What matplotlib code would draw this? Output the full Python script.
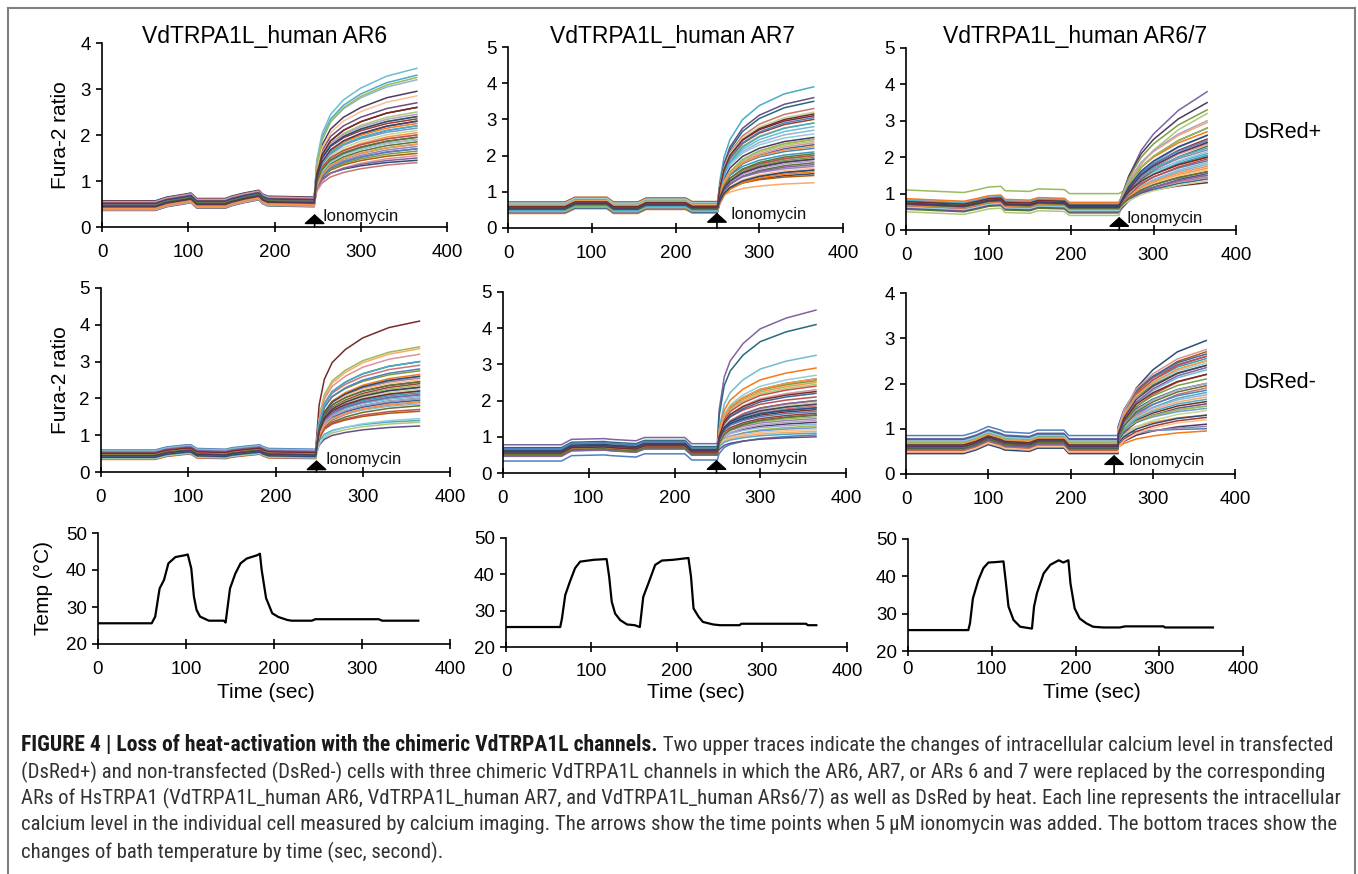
import matplotlib
matplotlib.use('Agg')
import matplotlib.pyplot as plt
from matplotlib import font_manager as fm
from matplotlib.lines import Line2D

W, H, DPI = 1358, 874, 100

# ------------------------------------------------------------------ data
time_ticks = [0, 100, 200, 300, 400]
titles = ["VdTRPA1L_human AR6", "VdTRPA1L_human AR7", "VdTRPA1L_human AR6/7"]
row_labels = ["DsRed+", "DsRed-"]

# bath temperature (time in s, temperature in °C)
temp_ar6_t = [0, 61, 65, 70, 75, 80, 88, 99, 102, 106, 109, 112, 116, 126, 143, 145, 150, 156, 162, 169,
              181, 184, 186, 191, 198, 205, 215, 220, 243, 247, 319, 323, 364]
temp_ar6_v = [25.6, 25.6, 27.4, 35.0, 37.3, 41.8, 43.5, 44.0, 44.2, 40.4, 32.8, 29.2, 27.4, 26.3, 26.3, 25.8,
              35.0, 39.0, 41.8, 43.1, 44.0, 44.4, 40.0, 32.4, 28.3, 27.3, 26.5, 26.3, 26.3, 26.7, 26.7, 26.3, 26.3]
temp_ar7_t = [0, 63.6, 65.6, 69.5, 75, 81, 87, 103, 118, 121, 124, 128, 134, 142, 151, 157, 161, 167, 175,
              183, 196, 214, 217, 220, 226, 231, 243, 251, 274, 276, 352, 354, 364]
temp_ar7_v = [25.5, 25.5, 27.8, 34.3, 38.0, 41.7, 43.5, 44.0, 44.2, 39.4, 32.5, 29.2, 27.4, 26.2, 26.0, 25.5,
              33.8, 37.5, 42.6, 43.8, 44.0, 44.5, 39.4, 30.6, 28.3, 26.9, 26.2, 26.0, 26.0, 26.4, 26.4, 26.0, 26.0]
temp_ar67_t = [0, 72, 74, 77.5, 84, 90, 96, 104, 114, 117, 120, 126, 134, 148, 150.5, 154, 162, 170, 180,
               185.5, 191.5, 194, 199, 205, 213, 221, 233, 253, 259, 305, 307, 364]
temp_ar67_v = [25.6, 25.6, 27.4, 34.1, 39.0, 42.2, 43.7, 43.8, 44.0, 38.1, 31.9, 28.3, 26.5, 26.0, 31.9, 35.5,
               40.8, 43.1, 44.3, 43.7, 44.3, 38.1, 31.4, 28.7, 27.4, 26.5, 26.3, 26.3, 26.6, 26.6, 26.3, 26.3]

# mean baseline before ionomycin (time, Fura-2 ratio)
base_ar6_t = [0, 62, 75, 98, 103, 110, 143, 150, 165, 182, 186, 192, 246]
base_ar6_pos = [0.45, 0.45, 0.53, 0.60, 0.62, 0.50, 0.50, 0.55, 0.62, 0.68, 0.60, 0.55, 0.53]
base_ar6_neg = [0.46, 0.46, 0.54, 0.60, 0.60, 0.50, 0.48, 0.52, 0.56, 0.60, 0.55, 0.50, 0.48]
base_ar7_t = [0, 68, 80, 118, 126, 155, 165, 212, 220, 250]
base_ar7_pos = [0.55, 0.55, 0.68, 0.68, 0.55, 0.55, 0.66, 0.66, 0.56, 0.56]
base_ar7_neg = [0.55, 0.55, 0.70, 0.72, 0.70, 0.66, 0.75, 0.75, 0.58, 0.58]
base_ar67_t = [0, 70, 85, 100, 115, 120, 150, 160, 192, 198, 258]
base_ar67_pos = [0.72, 0.65, 0.72, 0.80, 0.82, 0.70, 0.68, 0.75, 0.73, 0.62, 0.62]
base_ar67_neg = [0.60, 0.60, 0.68, 0.80, 0.72, 0.68, 0.65, 0.72, 0.72, 0.60, 0.60]

# fraction of the ionomycin response reached (time, fraction)
rise_ar6_pos_t = [246, 249, 255, 265, 280, 300, 330, 365]
rise_ar6_pos_f = [0, 0.30, 0.50, 0.65, 0.76, 0.85, 0.94, 1.0]
rise_ar6_neg_t = [247, 250, 256, 265, 280, 300, 330, 365]
rise_ar6_neg_f = [0, 0.35, 0.55, 0.68, 0.78, 0.87, 0.95, 1.0]
rise_ar7_pos_t = [250, 253, 258, 265, 280, 300, 330, 365]
rise_ar7_pos_f = [0, 0.20, 0.40, 0.55, 0.72, 0.84, 0.94, 1.0]
rise_ar7_neg_t = [249, 252, 258, 265, 280, 300, 330, 365]
rise_ar7_neg_f = [0, 0.25, 0.50, 0.62, 0.75, 0.86, 0.94, 1.0]
rise_ar67_pos_t = [258, 262, 270, 285, 300, 330, 365]
rise_ar67_pos_f = [0, 0.10, 0.28, 0.50, 0.64, 0.84, 1.0]
rise_ar67_neg_t = [253, 258, 265, 280, 300, 330, 365]
rise_ar67_neg_f = [0, 0.15, 0.35, 0.58, 0.74, 0.90, 1.0]

# per-cell baseline offsets and final (t=365 s) Fura-2 ratio
off_ar6_pos = [-0.08, 0.02, 0.10, -0.03, 0.05, -0.06, 0.12, 0.00, -0.04, 0.07, -0.09, 0.03, 0.09, -0.02,
               0.04, -0.07, 0.06, 0.01, -0.05, 0.11, -0.01, 0.08, -0.06, 0.02, 0.05, -0.08, 0.00, 0.10,
               -0.03, 0.04, -0.04, 0.07, -0.02, 0.03, 0.01, -0.05, 0.06, -0.01, 0.02, 0.00]
fin_ar6_pos = [2.20, 1.90, 2.40, 1.70, 3.30, 2.05, 1.45, 2.60, 1.85, 2.95, 2.30, 1.60, 2.15, 1.40, 2.50,
               1.75, 3.45, 2.00, 1.95, 2.35, 1.65, 2.70, 1.80, 2.25, 3.20, 1.55, 2.10, 2.45, 1.90, 2.85,
               1.70, 2.00, 3.25, 1.50, 2.20, 1.80, 2.40, 2.60, 1.95, 2.30]
off_ar6_neg = [0.14, -0.10, 0.03, -0.05, 0.08, -0.12, 0.00, 0.11, -0.07, 0.04, -0.02, 0.09, -0.09, 0.06,
               -0.04, 0.02, 0.12, -0.06, 0.01, -0.11, 0.07, -0.03, 0.05, -0.08, 0.10, 0.00, -0.05, 0.03,
               -0.10, 0.06, -0.01, 0.04, -0.07, 0.08, -0.03, 0.02, -0.06, 0.05, 0.00, -0.02]
fin_ar6_neg = [2.30, 1.90, 3.40, 2.10, 1.40, 2.60, 2.00, 4.10, 1.80, 2.45, 3.00, 1.65, 2.20, 2.90, 1.35,
               2.55, 2.05, 3.35, 1.95, 2.40, 2.75, 1.25, 2.15, 2.65, 1.85, 3.20, 2.25, 2.00, 1.45, 2.50,
               2.80, 1.70, 2.35, 2.10, 3.00, 1.90, 2.60, 2.20, 2.45, 2.30]
off_ar7_pos = [0.15, -0.12, 0.05, -0.06, 0.10, -0.15, 0.02, 0.13, -0.09, 0.07, -0.03, 0.17, -0.11, 0.04,
               -0.07, 0.09, -0.01, 0.12, -0.13, 0.06, -0.04, 0.01, 0.11, -0.08, 0.03, -0.10, 0.08, -0.02,
               0.14, -0.05, 0.00, 0.05, -0.09, 0.02, -0.06, 0.07, -0.03, 0.04, -0.01, 0.00]
fin_ar7_pos = [2.20, 1.60, 2.90, 1.90, 3.90, 2.45, 1.50, 3.10, 1.80, 2.50, 3.50, 1.45, 2.00, 3.30, 2.40,
               1.70, 2.80, 1.25, 2.30, 3.00, 1.95, 3.60, 2.10, 1.55, 2.70, 2.35, 3.20, 1.85, 2.60, 1.65,
               3.05, 2.00, 2.45, 1.75, 2.90, 2.25, 1.60, 3.15, 2.05, 1.90]
off_ar7_neg = [-0.22, 0.08, -0.05, 0.23, -0.08, 0.04, -0.02, 0.09, -0.06, 0.03, 0.15, -0.04, 0.06, -0.09,
               0.01, 0.07, -0.03, 0.05, -0.07, 0.02, 0.10, -0.05, 0.04, -0.01, 0.08, -0.06, 0.03, 0.00,
               -0.04, 0.06, 0.12, -0.02, 0.05, -0.08, 0.02, -0.03, 0.07, 0.00, -0.05, 0.04]
fin_ar7_neg = [1.05, 2.10, 1.30, 4.50, 1.90, 2.50, 1.60, 1.75, 2.60, 1.40, 4.10, 2.00, 1.25, 1.85, 2.45,
               1.50, 3.25, 1.15, 2.20, 1.65, 2.55, 1.00, 1.80, 2.90, 1.35, 2.30, 1.95, 1.45, 2.70, 1.20,
               1.70, 2.40, 1.55, 2.00, 1.10, 2.60, 1.80, 2.25, 1.60, 1.90]
off_ar67_pos = [0.05, -0.12, 0.38, -0.05, 0.10, -0.08, 0.02, 0.12, -0.15, 0.07, -0.02, 0.09, -0.10, 0.04,
                -0.22, 0.06, -0.04, 0.11, 0.00, -0.07, 0.08, -0.12, 0.03, 0.14, -0.06, 0.05, -0.03, 0.10,
                -0.09, 0.01, 0.07, -0.05, 0.04, -0.01, 0.09, -0.04, 0.02, 0.06, -0.02, 0.00]
fin_ar67_pos = [1.90, 2.40, 1.50, 3.80, 2.10, 1.70, 2.80, 1.30, 2.30, 3.50, 1.60, 2.00, 2.60, 1.45, 3.20,
                2.20, 1.80, 2.95, 1.40, 2.50, 3.30, 1.55, 2.05, 2.70, 1.85, 2.35, 1.35, 3.00, 2.15, 1.65,
                2.45, 1.95, 2.80, 1.50, 2.25, 1.75, 2.60, 2.00, 1.60, 2.40]
off_ar67_neg = [0.25, -0.10, 0.05, 0.18, -0.06, 0.10, -0.15, 0.02, 0.14, -0.08, 0.07, -0.03, 0.12, -0.12,
                0.04, 0.09, -0.05, 0.01, 0.16, -0.09, 0.06, -0.02, 0.11, -0.07, 0.03, 0.08, -0.04, 0.00,
                0.13, -0.11, 0.05, -0.01, 0.09, -0.06, 0.02, 0.07, -0.03, 0.04, -0.02, 0.01]
fin_ar67_neg = [1.00, 2.20, 1.50, 2.60, 1.80, 1.30, 2.95, 1.60, 2.40, 1.10, 2.00, 2.70, 1.45, 1.90, 2.50,
                1.05, 2.30, 1.70, 2.65, 1.25, 2.10, 1.55, 2.55, 0.95, 1.75, 2.75, 1.40, 2.00, 2.45, 1.20,
                1.85, 2.60, 1.50, 2.35, 1.65, 2.50, 1.30, 2.20, 1.95, 2.40]

# ionomycin arrow: (time, arrow tip, label x, label y)
iono_ar6_pos = (246.5, 0.28, 256, 0.22)
iono_ar7_pos = (249.5, 0.42, 266, 0.37)
iono_ar67_pos = (258.5, 0.36, 267, 0.32)
iono_ar6_neg = (247, 0.32, 257, 0.34)
iono_ar7_neg = (249, 0.36, 266, 0.37)
iono_ar67_neg = (253, 0.42, 270, 0.29)

# Excel-2007 style series colours
series_colors = ['#4F81BD', '#C0504D', '#9BBB59', '#8064A2', '#4BACC6', '#F79646',
                 '#2C4D75', '#772C2A', '#5F7530', '#4D3B62', '#276A7C', '#B65708',
                 '#729ACA', '#CD7371', '#AFC97A', '#9983B5', '#6FBDD1', '#F9AA6B',
                 '#3A679C', '#9F3B38', '#7E9D40', '#664F83', '#369AB5', '#F57A1A',
                 '#95B3D7', '#D99694', '#C3D69B', '#B3A2C7', '#93CDDD', '#FAC090']

# ------------------------------------------------------------------ style
names = {f.name for f in fm.fontManager.ttflist}
SANS = 'Liberation Sans' if 'Liberation Sans' in names else 'DejaVu Sans'
NARROW = next((n for n in ['Liberation Sans Narrow', 'Roboto Condensed', 'Open Sans Condensed']
               if n in names), SANS)
plt.rcParams['font.family'] = [SANS, 'DejaVu Sans']

fig = plt.figure(figsize=(W / DPI, H / DPI), dpi=DPI)
fig.patch.set_facecolor('white')

# frame
for xs, ys in [([8, 1355], [8, 8]), ([8, 8], [8, 874]), ([1355, 1355], [8, 874])]:
    fig.add_artist(Line2D([x / W for x in xs], [1 - y / H for y in ys], color='#808080', lw=1.5))


def make_ax(x0, x1, ytop, ybot, ylim, yticks, xpad=9):
    ax = fig.add_axes([x0 / W, 1 - ybot / H, (x1 - x0) / W, (ybot - ytop) / H])
    ax.set_xlim(0, 400)
    ax.set_ylim(*ylim)
    ax.set_xticks(time_ticks)
    ax.set_yticks(yticks)
    for s in ['top', 'right']:
        ax.spines[s].set_visible(False)
    for s in ['left', 'bottom']:
        ax.spines[s].set_linewidth(1.2)
    ax.tick_params(axis='x', direction='inout', length=7, width=1.2, labelsize=13.5, pad=xpad)
    ax.tick_params(axis='y', direction='out', length=4, width=1.2, labelsize=13.5, pad=4)
    ax.patch.set_alpha(0)
    return ax


def draw_traces(ax, base_t, base_v, offs, rise_t, rise_f, finals, iono):
    for i, (off, fin) in enumerate(zip(offs, finals)):
        pre = [v + off for v in base_v]
        b_end = pre[-1]
        post = [b_end + (fin - b_end) * f for f in rise_f[1:]]
        ax.plot(list(base_t) + list(rise_t[1:]), pre + post,
                color=series_colors[i % len(series_colors)], lw=1.1, solid_joinstyle='round')
    t, tip, lx, ly = iono
    ax.annotate('', xy=(t, tip), xytext=(t, 0),
                arrowprops=dict(arrowstyle='-|>,head_length=0.45,head_width=0.5', color='black',
                                lw=1.2, mutation_scale=13, shrinkA=0, shrinkB=0))
    ax.text(lx, ly, 'Ionomycin', fontsize=12, va='center', ha='left', color='#111111')


fura_panels = [
    # (x0, x1, ytop, ybot, ymax, base_t, base_v, offs, rise_t, rise_f, finals, iono)
    (102, 447, 43, 227, 4, base_ar6_t, base_ar6_pos, off_ar6_pos, rise_ar6_pos_t, rise_ar6_pos_f, fin_ar6_pos, iono_ar6_pos),
    (508, 843, 47, 228, 5, base_ar7_t, base_ar7_pos, off_ar7_pos, rise_ar7_pos_t, rise_ar7_pos_f, fin_ar7_pos, iono_ar7_pos),
    (906, 1236, 48, 230, 5, base_ar67_t, base_ar67_pos, off_ar67_pos, rise_ar67_pos_t, rise_ar67_pos_f, fin_ar67_pos, iono_ar67_pos),
    (101, 450, 288, 472, 5, base_ar6_t, base_ar6_neg, off_ar6_neg, rise_ar6_neg_t, rise_ar6_neg_f, fin_ar6_neg, iono_ar6_neg),
    (503, 846, 292, 473, 5, base_ar7_t, base_ar7_neg, off_ar7_neg, rise_ar7_neg_t, rise_ar7_neg_f, fin_ar7_neg, iono_ar7_neg),
    (906, 1235, 293, 474, 4, base_ar67_t, base_ar67_neg, off_ar67_neg, rise_ar67_neg_t, rise_ar67_neg_f, fin_ar67_neg, iono_ar67_neg),
]

for k, p in enumerate(fura_panels):
    x0, x1, yt, yb, ymax, bt, bv, offs, rt, rf, fins, iono = p
    ax = make_ax(x0, x1, yt, yb, (0, ymax), list(range(0, ymax + 1)))
    draw_traces(ax, bt, bv, offs, rt, rf, fins, iono)
    if k % 3 == 0:
        fig.text(61 / W, 1 - ((yt + yb) / 2) / H, 'Fura-2 ratio', rotation=90, fontsize=15,
                 ha='center', va='center')

temp_panels = [
    (98, 450, 533, 644, temp_ar6_t, temp_ar6_v, 9, 266),
    (506, 847, 538, 647, temp_ar7_t, temp_ar7_v, 8, 696),
    (908, 1243, 539, 651, temp_ar67_t, temp_ar67_v, 4, 1092),
]
for k, (x0, x1, yt, yb, tt, tv, xpad, xlab) in enumerate(temp_panels):
    ax = make_ax(x0, x1, yt, yb, (20, 50), [20, 30, 40, 50], xpad=xpad)
    ax.plot(tt, tv, color='black', lw=1.6)
    fig.text(xlab / W, 1 - 693 / H, 'Time (sec)', fontsize=15, ha='center', va='center')
    if k == 0:
        fig.text(43 / W, 1 - 588 / H, 'Temp (°C)', rotation=90, fontsize=15, ha='center', va='center')

# column titles and row labels
for x, y, s in [(265, 37, titles[0]), (672, 36, titles[1]), (1075, 36, titles[2])]:
    fig.text(x / W, 1 - y / H, s, fontsize=16.5, ha='center', va='center')
fig.text(1243 / W, 1 - 133 / H, row_labels[0], fontsize=15.5, ha='left', va='center')
fig.text(1243 / W, 1 - 383 / H, row_labels[1], fontsize=15.5, ha='left', va='center')

# caption
cap_bold = "FIGURE 4 | Loss of heat-activation with the chimeric VdTRPA1L channels."
cap_lines = [
    " Two upper traces indicate the changes of intracellular calcium level in transfected",
    "(DsRed+) and non-transfected (DsRed-) cells with three chimeric VdTRPA1L channels in which the AR6, AR7, or ARs 6 and 7 were replaced by the corresponding",
    "ARs of HsTRPA1 (VdTRPA1L_human AR6, VdTRPA1L_human AR7, and VdTRPA1L_human ARs6/7) as well as DsRed by heat. Each line represents the intracellular",
    "calcium level in the individual cell measured by calcium imaging. The arrows show the time points when 5\u2009\u03bcM ionomycin was added. The bottom traces show the",
    "changes of bath temperature by time (sec, second).",
]
cap_y = [745, 772, 798, 825, 852]
XL = 21
CAP_FAMILY = [NARROW, 'DejaVu Sans']
renderer = fig.canvas.get_renderer()

# fit font sizes to the widths of the printed caption
probe = fig.text(0, 0, cap_bold, fontsize=12, fontweight='bold', family=CAP_FAMILY)
bold_fs = 12 * 638 / probe.get_window_extent(renderer).width
probe.remove()
probe = fig.text(0, 0, cap_lines[1], fontsize=12, family=CAP_FAMILY)
reg_fs = 12 * 1301 / probe.get_window_extent(renderer).width
probe.remove()

tb = fig.text(XL / W, 1 - cap_y[0] / H, cap_bold, fontsize=bold_fs, fontweight='bold',
              family=CAP_FAMILY, ha='left', va='center', color='#1a1a1a')
bb = tb.get_window_extent(renderer)
fig.text(bb.x1 / W, 1 - cap_y[0] / H, cap_lines[0], fontsize=reg_fs, family=CAP_FAMILY,
         ha='left', va='center', color='#333333')
for s, y in zip(cap_lines[1:], cap_y[1:]):
    fig.text(XL / W, 1 - y / H, s, fontsize=reg_fs, family=CAP_FAMILY,
             ha='left', va='center', color='#333333')

fig.savefig('out.png', dpi=DPI, facecolor='white')
